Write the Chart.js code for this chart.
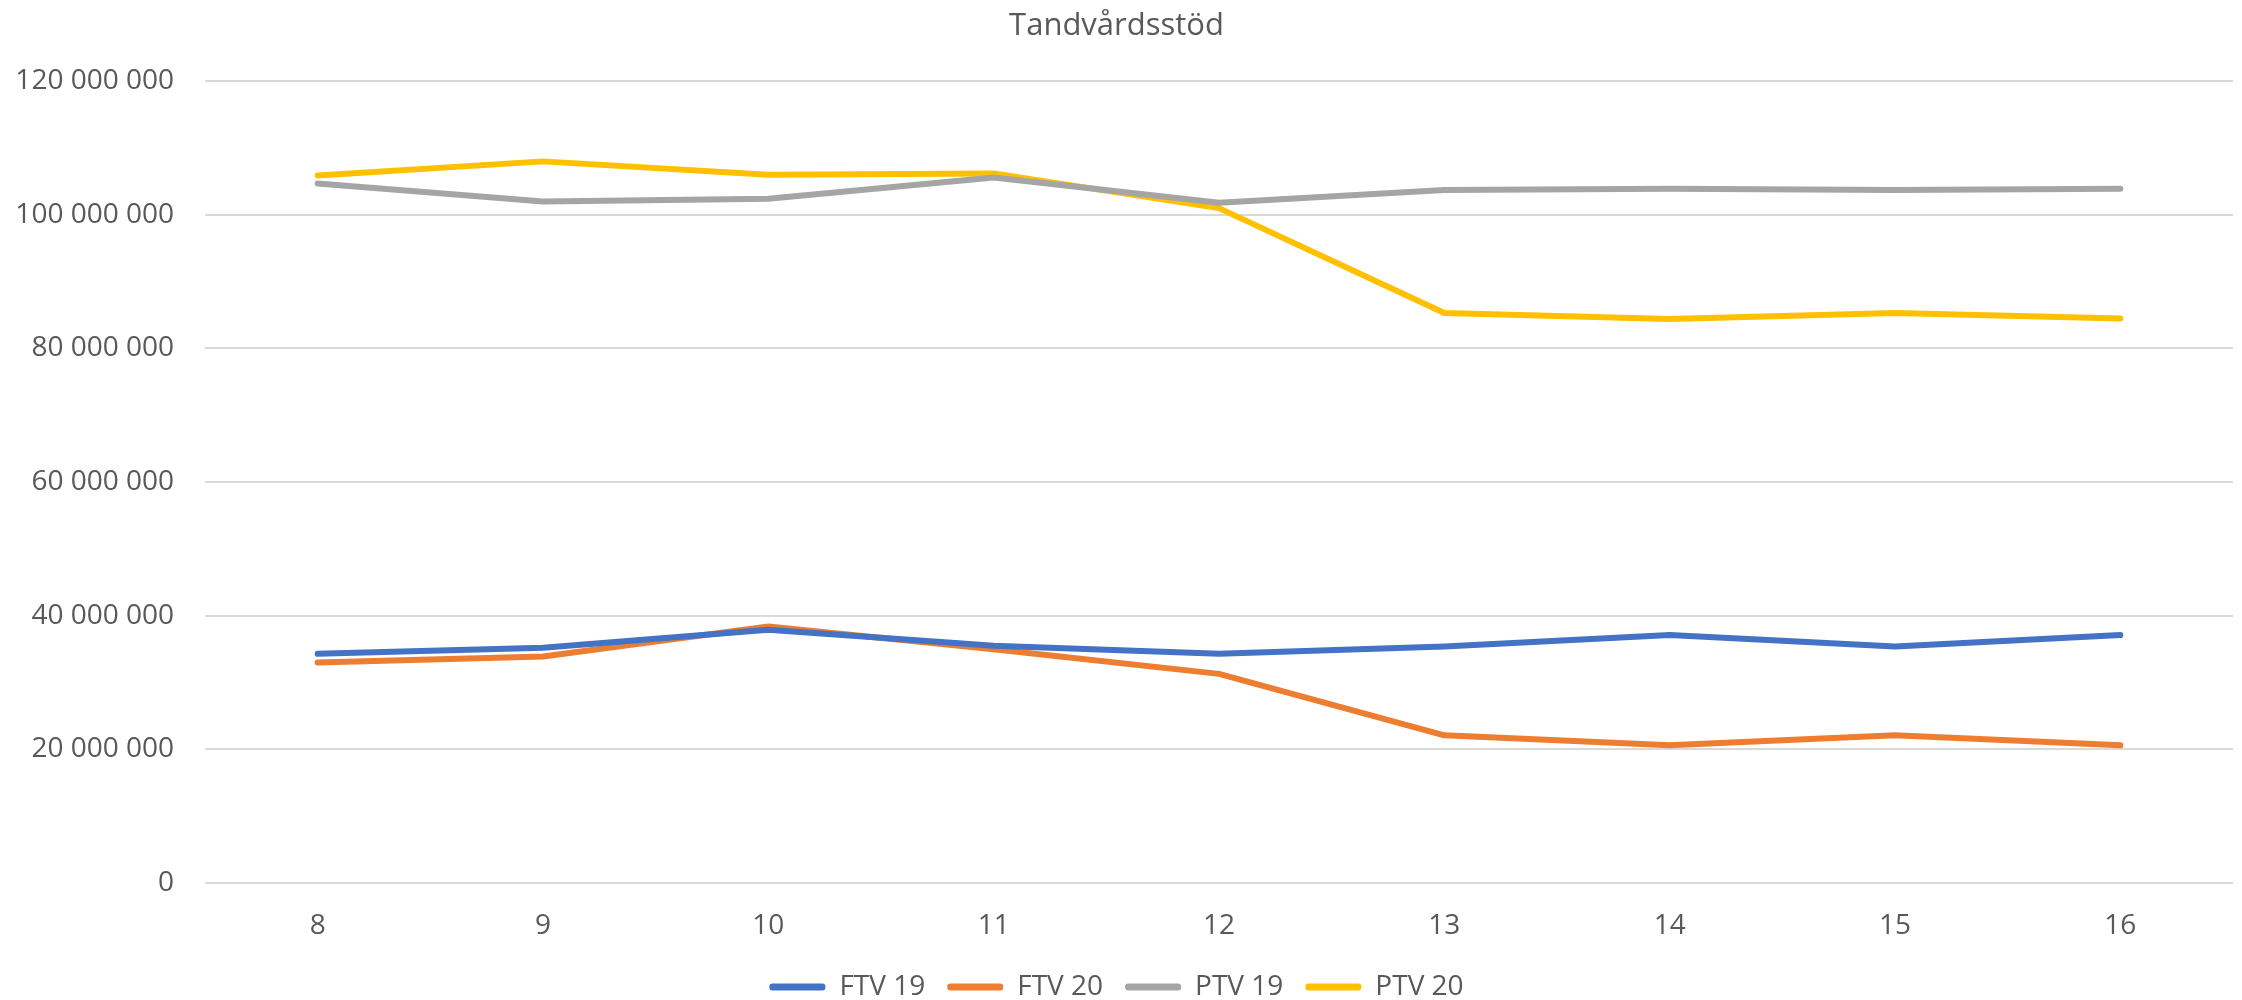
<!DOCTYPE html>
<html>
<head>
<meta charset="utf-8">
<script src="https://cdn.jsdelivr.net/npm/chart.js@4/dist/chart.umd.min.js"></script>
<style>
    body { margin: 0; background: #ffffff; overflow: hidden; }
    #wrap { width: 2242px; height: 1000px; position: relative; }
</style>
</head>
<body>
<div id="wrap"><canvas id="lineChart"></canvas></div>
<script>
// Data
const weeks = ['8', '9', '10', '11', '12', '13', '14', '15', '16'];
const ftv19 = [34300000, 35200000, 37900000, 35500000, 34300000, 35400000, 37100000, 35400000, 37100000];
const ftv20 = [33000000, 33900000, 38400000, 35000000, 31300000, 22100000, 20600000, 22100000, 20600000];
const ptv19 = [104700000, 102000000, 102400000, 105600000, 101800000, 103700000, 103900000, 103700000, 103900000];
const ptv20 = [105900000, 108000000, 106000000, 106200000, 101000000, 85300000, 84400000, 85300000, 84500000];
const seriesNames = ['FTV 19', 'FTV 20', 'PTV 19', 'PTV 20'];
const seriesColors = ['#4472C4', '#ED7D31', '#A5A5A5', '#FFC000'];

const textColor = '#595959';
const fontFamily = '"Open Sans", "Noto Sans", sans-serif';

// Thousands separated by spaces, e.g. 120 000 000
function formatNumber(v) {
    return String(v).replace(/\B(?=(\d{3})+(?!\d))/g, ' ');
}

const datasets = [ftv19, ftv20, ptv19, ptv20].map(function (values, i) {
    return {
        label: seriesNames[i],
        data: values,
        borderColor: seriesColors[i],
        backgroundColor: seriesColors[i],
        borderWidth: 6,
        borderCapStyle: 'round',
        borderJoinStyle: 'round',
        pointRadius: 0,
        tension: 0
    };
});

const config = {
    type: 'line',
    data: { labels: weeks, datasets: datasets },
    options: {
        responsive: true,
        maintainAspectRatio: false,
        animation: false,
        // negative bottom padding pushes the legend row closer to the bottom edge
        layout: { padding: { left: 0, right: 9, top: 0, bottom: -11 } },
        scales: {
            x: {
                offset: true,
                grid: { display: false },
                border: { display: false },
                ticks: { color: textColor, font: { family: fontFamily, size: 28 }, padding: 18 },
                afterFit: function (scale) { scale.height = 68; }
            },
            y: {
                min: 0,
                max: 120000000,
                ticks: {
                    stepSize: 20000000,
                    color: textColor,
                    font: { family: fontFamily, size: 28 },
                    padding: 31,
                    callback: function (value) { return formatNumber(value); }
                },
                grid: { color: '#d9d9d9', lineWidth: 2, drawTicks: false },
                border: { display: false },
                afterFit: function (scale) { scale.width = 205; }
            }
        },
        plugins: {
            title: {
                display: true,
                text: 'Tandvårdsstöd',
                color: textColor,
                font: { family: fontFamily, size: 31, weight: 'normal' },
                padding: { top: 8, bottom: 36 }
            },
            legend: {
                position: 'bottom',
                labels: {
                    color: textColor,
                    font: { family: fontFamily, size: 28 },
                    boxWidth: 56,
                    boxHeight: 7,
                    padding: 22,
                    generateLabels: function (chart) {
                        return chart.data.datasets.map(function (ds, i) {
                            return {
                                text: ds.label,
                                fillStyle: ds.borderColor,
                                strokeStyle: ds.borderColor,
                                lineWidth: 0,
                                borderRadius: 3,
                                fontColor: textColor,
                                datasetIndex: i
                            };
                        });
                    }
                }
            },
            tooltip: { enabled: false }
        }
    }
};

var lineChart = new Chart(document.getElementById('lineChart'), config);
</script>
</body>
</html>
